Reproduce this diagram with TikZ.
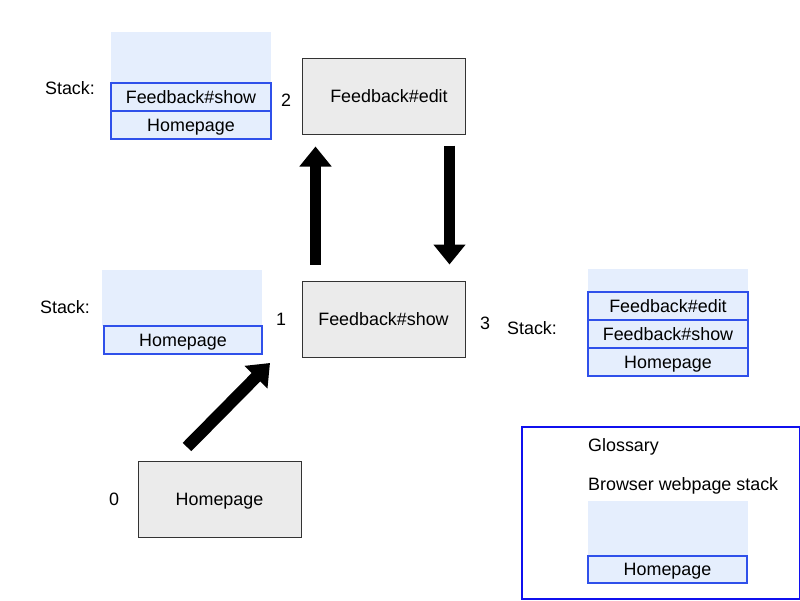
\documentclass[tikz,border=0pt]{standalone}
\usepackage{fontspec}
\setmainfont{Liberation Sans}
\usetikzlibrary{arrows.meta}
\definecolor{pagegray}{HTML}{EBEBEB}
\definecolor{stackbg}{HTML}{E5EEFD}
\definecolor{itemblue}{HTML}{2F50EA}
\definecolor{glossblue}{HTML}{1010EE}
\begin{document}
\begin{tikzpicture}[x=1pt,y=-1pt,
  font=\fontsize{17.9}{21}\selectfont,
  pagebox/.style={draw=black!80, line width=1pt, fill=pagegray, minimum width=163pt, minimum height=76pt, inner sep=0pt, text height=13pt, text depth=1pt},
  stackback/.style={fill=stackbg, minimum width=160pt, inner sep=0pt},
  stackitem/.style={draw=itemblue, line width=1.2pt, fill=stackbg, minimum width=160pt, minimum height=28pt, inner sep=0pt, text height=13pt, text depth=1pt},
  lbl/.style={inner sep=0pt, text height=13pt, text depth=1pt},
  bigarrow/.style={line width=11pt, -{Triangle[width=31pt,length=20pt]}}
]
\useasboundingbox (0,0) rectangle (800,600);

% page boxes
\node[pagebox] (edit) at (383.5,96) {\hspace*{11pt}Feedback\#edit};
\node[pagebox] (show) at (383.5,319) {Feedback\#show};
\node[pagebox] (home) at (219.5,499.5) {Homepage};

% numbers
\node[lbl] (n2) at (286,100) {2};
\node[lbl] (n1) at (281,319) {1};
\node[lbl] (n3) at (485,323) {3};
\node[lbl] (n0) at (114,499) {0};

% stack 2 (top-left)
\node[lbl] (st2) at (70,88) {Stack:};
\node[stackback, minimum height=51pt] (s2bg) at (191,57.5) {};
\node[stackitem] (s2a) at (191,97) {Feedback\#show};
\node[stackitem] (s2b) at (191,125) {Homepage};

% stack 1 (middle-left)
\node[lbl] (st1) at (65,307) {Stack:};
\node[stackback, minimum height=56pt] (s1bg) at (182,298) {};
\node[stackitem, minimum width=158pt] (s1a) at (183,340) {Homepage};

% stack 3 (right)
\node[lbl] (st3) at (532,328) {Stack:};
\node[stackback, minimum height=23pt] (s3bg) at (668,280.5) {};
\node[stackitem] (s3a) at (668,306) {Feedback\#edit};
\node[stackitem] (s3b) at (668,334) {Feedback\#show};
\node[stackitem] (s3c) at (668,362) {Homepage};

% glossary
\node[draw=glossblue, line width=2pt, minimum width=278pt, minimum height=172pt, inner sep=0pt] (gloss) at (660.5,512.5) {};
\node[lbl, anchor=west] (gt) at (588,445) {Glossary};
\node[lbl, anchor=west] (gs) at (588,484) {Browser webpage stack};
\node[stackback, minimum height=55pt] (gbg) at (668,528.5) {};
\node[stackitem, minimum width=159pt, minimum height=27pt] (ga) at (667.5,569.5) {Homepage};

% arrows
\draw[bigarrow, shorten <=16pt, shorten >=12pt] ([xshift=14pt]show.north west) -- ([xshift=14pt]edit.south west);
\draw[bigarrow, shorten <=11pt, shorten >=16pt] ([xshift=-16pt]edit.south east) -- ([xshift=-16pt]show.north east);
\coordinate (d0) at (187,447);
\coordinate (d1) at (270,363);
\draw[bigarrow, line width=12pt] (d0) -- (d1);
\end{tikzpicture}
\end{document}
